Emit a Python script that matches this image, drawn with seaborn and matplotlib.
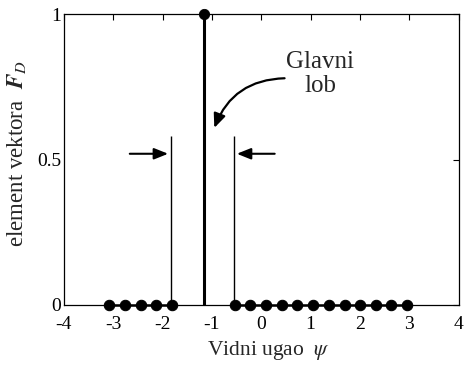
import matplotlib
matplotlib.use("Agg")
import matplotlib.pyplot as plt
import seaborn as sns
import pandas as pd

# ---- data ----
psi_left = [-3.08, -2.76, -2.44, -2.13, -1.81]
psi_right = [-0.54, -0.22, 0.10, 0.42, 0.73, 1.05, 1.37, 1.69, 2.01, 2.32, 2.64, 2.96]
f_left = [0, 0, 0, 0, 0]
f_right = [0] * 12
psi_peak = [-1.16]
f_peak = [1.0]
null_lines = [-1.83, -0.55]
null_height = 0.58
x_ticks = [-4, -3, -2, -1, 0, 1, 2, 3, 4]
y_ticks = [0, 0.5, 1]
y_tick_labels = ["0", "0.5", "1"]

sns.set_theme(style="white")
plt.rcParams["font.family"] = ["Liberation Serif", "DejaVu Serif"]
plt.rcParams["mathtext.fontset"] = "stix"

df = pd.DataFrame({
    "psi": psi_left + psi_right,
    "F": f_left + f_right,
    "grp": ["L"] * len(psi_left) + ["R"] * len(psi_right),
})
peak = pd.DataFrame({"psi": psi_peak, "F": f_peak})

fig = plt.figure(figsize=(4.66, 3.66), dpi=100)
ax = fig.add_axes([0.137, 0.167, 0.847, 0.794])

# vertical marker lines (first nulls)
ax.vlines(null_lines, 0, null_height, color="black", linewidth=1.0, zorder=2)
# main lobe stem
ax.vlines(psi_peak, 0, f_peak, color="black", linewidth=2.2, zorder=3)

sns.lineplot(data=df, x="psi", y="F", units="grp", estimator=None,
             color="black", linewidth=1.8, marker="o", markersize=7.5,
             markeredgecolor="black", ax=ax, clip_on=False, zorder=4)
sns.scatterplot(data=peak, x="psi", y="F", color="black", s=55,
                edgecolor="black", ax=ax, clip_on=False, zorder=5)

ax.set_xlim(-4, 4)
ax.set_ylim(0, 1)
ax.set_xticks(x_ticks)
ax.set_xticklabels([str(t) for t in x_ticks])
ax.set_yticks(y_ticks)
ax.set_yticklabels(y_tick_labels)
ax.tick_params(axis="both", direction="in", length=4, width=0.8,
               top=True, right=True, labelsize=14, colors="black")
ax.tick_params(axis="x", pad=8)
ax.tick_params(axis="y", pad=2)
for s in ax.spines.values():
    s.set_color("black")
    s.set_linewidth(0.9)

ax.set_xlabel(r"Vidni ugao  $\psi$", fontsize=15.5)
ax.set_ylabel(r"element vektora  $\boldsymbol{F}_{D}$", fontsize=16.5)
ax.xaxis.set_label_coords(0.52, -0.118)
ax.yaxis.set_label_coords(-0.092, 0.52)

# annotations
ax.text(1.2, 0.795, "Glavni\nlob", ha="center", va="center", fontsize=18,
        linespacing=1.1)
ax.annotate("", xy=(-0.97, 0.60), xytext=(0.53, 0.78),
            arrowprops=dict(arrowstyle="-|>,head_length=0.7,head_width=0.3",
                            color="black", lw=1.6,
                            connectionstyle="arc3,rad=0.35"))
ax.annotate("", xy=(-1.83, 0.52), xytext=(-2.72, 0.52),
            arrowprops=dict(arrowstyle="-|>,head_length=0.7,head_width=0.28",
                            color="black", lw=1.5))
ax.annotate("", xy=(-0.55, 0.52), xytext=(0.33, 0.52),
            arrowprops=dict(arrowstyle="-|>,head_length=0.7,head_width=0.28",
                            color="black", lw=1.5))

fig.savefig("out.png", dpi=100, facecolor="white")
